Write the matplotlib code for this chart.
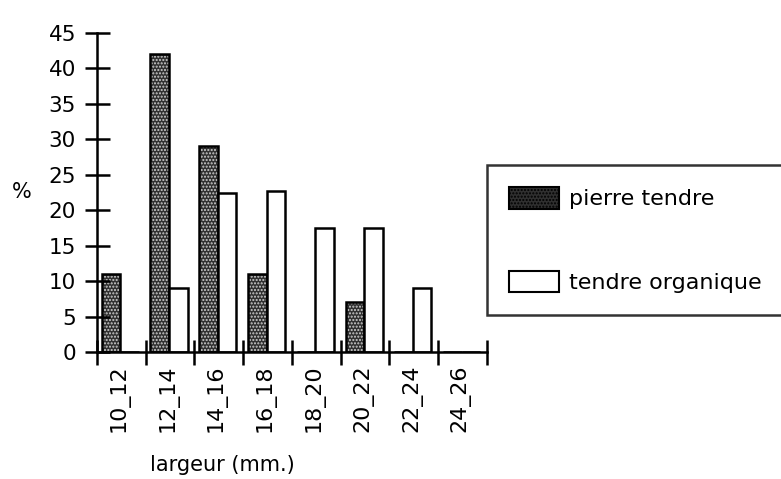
import matplotlib
matplotlib.use('Agg')
import matplotlib.pyplot as plt
from matplotlib.patches import Patch
import numpy as np

# Données du graphique
categories = ['10_12', '12_14', '14_16', '16_18', '18_20', '20_22', '22_24', '24_26']
pierre_tendre = [11, 42, 29, 11, 0, 7, 0, 0]
tendre_organique = [0, 9, 22.5, 22.7, 17.5, 17.5, 9, 0]
y_ticks = [0, 5, 10, 15, 20, 25, 30, 35, 40, 45]

plt.rcParams['font.family'] = ['DejaVu Sans']


def draw_chart():
    fig = plt.figure(figsize=(7.81, 4.79), dpi=100)
    ax = fig.add_axes([0.124, 0.265, 0.4996, 0.666])

    x = np.arange(len(categories))
    w = 0.38

    # barres pointillées (fond sombre + trame claire), puis contour noir
    ax.bar(x + 0.1, pierre_tendre, w, align='edge', color='#303030',
           edgecolor='#cfcfcf', hatch='.....', linewidth=0)
    ax.bar(x + 0.1, pierre_tendre, w, align='edge', fill=False,
           edgecolor='black', linewidth=1.8)
    ax.bar(x + 0.1 + w, tendre_organique, w, align='edge', color='white',
           edgecolor='black', linewidth=1.8)

    ax.set_xlim(0, len(categories))
    ax.set_ylim(0, 45)
    ax.set_yticks(y_ticks)
    ax.set_xticks(np.arange(len(categories) + 1))
    ax.set_xticklabels([])
    for i, c in enumerate(categories):
        ax.text(i + 0.45, -1.7, c, rotation=90, ha='center', va='top', fontsize=16)

    for s in ['top', 'right']:
        ax.spines[s].set_visible(False)
    for s in ['left', 'bottom']:
        ax.spines[s].set_linewidth(1.8)
    ax.tick_params(direction='inout', length=18, width=1.8, labelsize=15.5, pad=6)

    fig.text(0.028, 0.60, '%', fontsize=15, ha='center', va='center')
    fig.text(0.285, 0.03, 'largeur (mm.)', fontsize=15, ha='center', va='center')

    handles = [
        Patch(facecolor='#303030', edgecolor='black', hatch='.....', linewidth=1.5),
        Patch(facecolor='white', edgecolor='black', linewidth=1.5),
    ]
    leg = fig.legend(handles, ['pierre tendre', 'tendre organique'],
                     loc='upper left', bbox_to_anchor=(0.6236, 0.6555),
                     fontsize=16, frameon=True, fancybox=False,
                     edgecolor='black', handlelength=2.25, handleheight=1.1,
                     labelspacing=2.75, borderpad=1.0, handletextpad=0.45,
                     borderaxespad=0)
    leg.get_frame().set_linewidth(1.8)

    fig.savefig('out.png', dpi=100)


if __name__ == '__main__':
    draw_chart()
